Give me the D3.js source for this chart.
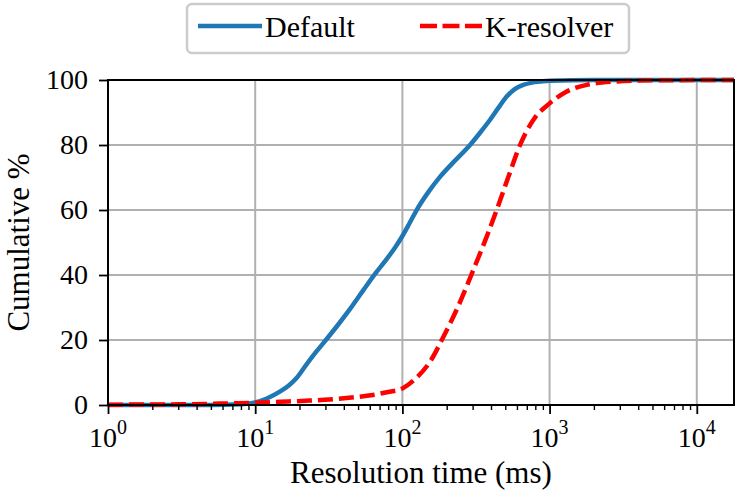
<!DOCTYPE html>
<html>
<head>
<meta charset="utf-8">
<script src="https://cdn.jsdelivr.net/npm/d3@7"></script>
<style>
  html, body { margin: 0; padding: 0; background: #fff; }
  svg { display: block; }
  svg text { font-family: "Liberation Serif", "Times New Roman", Tinos, Times, "DejaVu Serif", "Noto Serif", serif !important; fill: #000; }
</style>
</head>
<body>
<svg id="chart" width="749" height="499"></svg>
<script>
// ---- data ----
const seriesNames = ["Default", "K-resolver"];
const defaultTime = [1, 5, 8, 10, 12, 14.7, 17, 19.1, 22.4, 26, 30.6, 37, 44, 54, 65, 77, 89, 100, 112, 125, 150, 180, 220, 288, 340, 393, 450, 511, 580, 662, 760, 860, 1000, 2000, 17900];
const defaultPct  = [0, 0, 0.2, 0.8, 2.0, 4.1, 6.1, 8.3, 12.6, 16.4, 20.3, 25, 29.5, 35.2, 40.3, 44.5, 48.4, 52, 56, 60, 65.5, 70.2, 74.5, 80, 84, 87.7, 91.5, 94.9, 97.2, 98.5, 99.2, 99.5, 99.8, 100, 100];
const kresTime = [1, 3, 6.7, 10, 14.7, 22, 32, 45, 63, 80, 100, 122, 154, 190, 240, 303, 374, 437, 525, 630, 775, 1000, 1300, 1786, 2710, 5000, 17900];
const kresPct  = [0.1, 0.2, 0.5, 0.7, 1.0, 1.3, 1.7, 2.3, 3.1, 4.0, 5.1, 8.0, 13.3, 21, 30.5, 41.5, 51.8, 60, 70.2, 80, 87.7, 92.8, 96.4, 98.5, 99.5, 99.9, 100];
const xTickValues = [1, 10, 100, 1000, 10000];
const xTickExponents = ["0", "1", "2", "3", "4"];
const yTickValues = [0, 20, 40, 60, 80, 100];
const xDomain = [1, 17900];
const yDomain = [0, 100];
const xLabel = "Resolution time (ms)";
const yLabel = "Cumulative %";

// ---- layout ----
const FONT = '"Liberation Serif", "Times New Roman", Tinos, Times, "DejaVu Serif", "Noto Serif", serif';
const svg = d3.select("#chart");
const L = 108, R = 734, T = 80, B = 405;
const x = d3.scaleLog().domain(xDomain).range([L, R]);
const y = d3.scaleLinear().domain(yDomain).range([B, T]);
const gridColor = "#b0b0b0";

svg.append("clipPath").attr("id", "clip").append("rect")
  .attr("x", L).attr("y", T - 4).attr("width", R - L).attr("height", B - T + 8);

// grid
const grid = svg.append("g");
grid.selectAll(".gx").data(xTickValues.filter(v => v > xDomain[0])).join("line")
  .attr("x1", d => x(d)).attr("x2", d => x(d)).attr("y1", T).attr("y2", B)
  .attr("stroke", gridColor).attr("stroke-width", 2);
grid.selectAll(".gy").data(yTickValues.filter(v => v > 0 && v < 100)).join("line")
  .attr("x1", L).attr("x2", R).attr("y1", d => y(d)).attr("y2", d => y(d))
  .attr("stroke", gridColor).attr("stroke-width", 2);

// lines
const line = d3.line().x(d => x(d[0])).y(d => y(d[1])).curve(d3.curveMonotoneX);
const plot = svg.append("g").attr("clip-path", "url(#clip)");
plot.append("path").datum(defaultTime.map((t, i) => [t, defaultPct[i]]))
  .attr("d", line).attr("fill", "none").attr("stroke", "#1f77b4")
  .attr("stroke-width", 4.5).attr("stroke-linejoin", "round");
plot.append("path").datum(kresTime.map((t, i) => [t, kresPct[i]]))
  .attr("d", line).attr("fill", "none").attr("stroke", "#ff0000")
  .attr("stroke-width", 4.5).attr("stroke-dasharray", "15,6");

// axes frame
svg.append("rect").attr("x", L).attr("y", T).attr("width", R - L).attr("height", B - T)
  .attr("fill", "none").attr("stroke", "#000").attr("stroke-width", 2);

// x axis ticks
const xAxis = d3.axisBottom(x).tickValues(xTickValues).tickSize(9).tickFormat("");
const gx = svg.append("g").attr("transform", `translate(0,${B})`).call(xAxis);
gx.select(".domain").remove();
gx.selectAll(".tick line").attr("stroke", "#000").attr("stroke-width", 1.8);
const minor = [];
for (let e = 0; e < 5; e++) for (let m = 2; m < 10; m++) {
  const v = m * Math.pow(10, e);
  if (v <= xDomain[1]) minor.push(v);
}
const xMinor = d3.axisBottom(x).tickValues(minor).tickSize(5).tickFormat("");
const gxm = svg.append("g").attr("transform", `translate(0,${B})`).call(xMinor);
gxm.select(".domain").remove();
gxm.selectAll(".tick line").attr("stroke", "#000").attr("stroke-width", 1.4);

// x tick labels with superscripts
const xl = svg.append("g").attr("font-family", FONT);
xTickValues.forEach((v, i) => {
  const t = xl.append("text").attr("x", x(v)).attr("y", 447)
    .attr("text-anchor", "middle").attr("font-size", 28);
  t.append("tspan").text("10");
  t.append("tspan").attr("dy", -13).attr("font-size", 20).text(xTickExponents[i]);
});

// y axis
const yAxis = d3.axisLeft(y).tickValues(yTickValues).tickSize(9).tickPadding(11).tickFormat(d3.format("d"));
const gy = svg.append("g").attr("transform", `translate(${L},0)`).call(yAxis).attr("font-family", FONT);
gy.select(".domain").remove();
gy.selectAll(".tick line").attr("stroke", "#000").attr("stroke-width", 1.8);
gy.selectAll(".tick text").attr("font-size", 28).attr("font-family", FONT).attr("fill", "#000");

// axis labels
svg.append("text").attr("x", (L + R) / 2).attr("y", 483).attr("text-anchor", "middle")
  .attr("font-family", FONT).attr("font-size", 31).text(xLabel);
svg.append("text").attr("transform", `translate(29,${(T + B) / 2}) rotate(-90)`)
  .attr("font-family", FONT).attr("text-anchor", "middle").attr("font-size", 31).text(yLabel);

// legend
const lg = svg.append("g").attr("font-family", FONT);
lg.append("rect").attr("x", 187).attr("y", 4).attr("width", 442).attr("height", 49)
  .attr("rx", 5).attr("fill", "#fff").attr("stroke", "#cccccc").attr("stroke-width", 2.5);
lg.append("line").attr("x1", 198).attr("x2", 262).attr("y1", 26).attr("y2", 26)
  .attr("stroke", "#1f77b4").attr("stroke-width", 4.5);
lg.append("text").attr("x", 265).attr("y", 37).attr("font-size", 30).text(seriesNames[0]);
lg.append("line").attr("x1", 420).attr("x2", 482).attr("y1", 26).attr("y2", 26)
  .attr("stroke", "#ff0000").attr("stroke-width", 4.5).attr("stroke-dasharray", "17,5.5");
lg.append("text").attr("x", 485).attr("y", 37).attr("font-size", 30).text(seriesNames[1]);
</script>
</body>
</html>
